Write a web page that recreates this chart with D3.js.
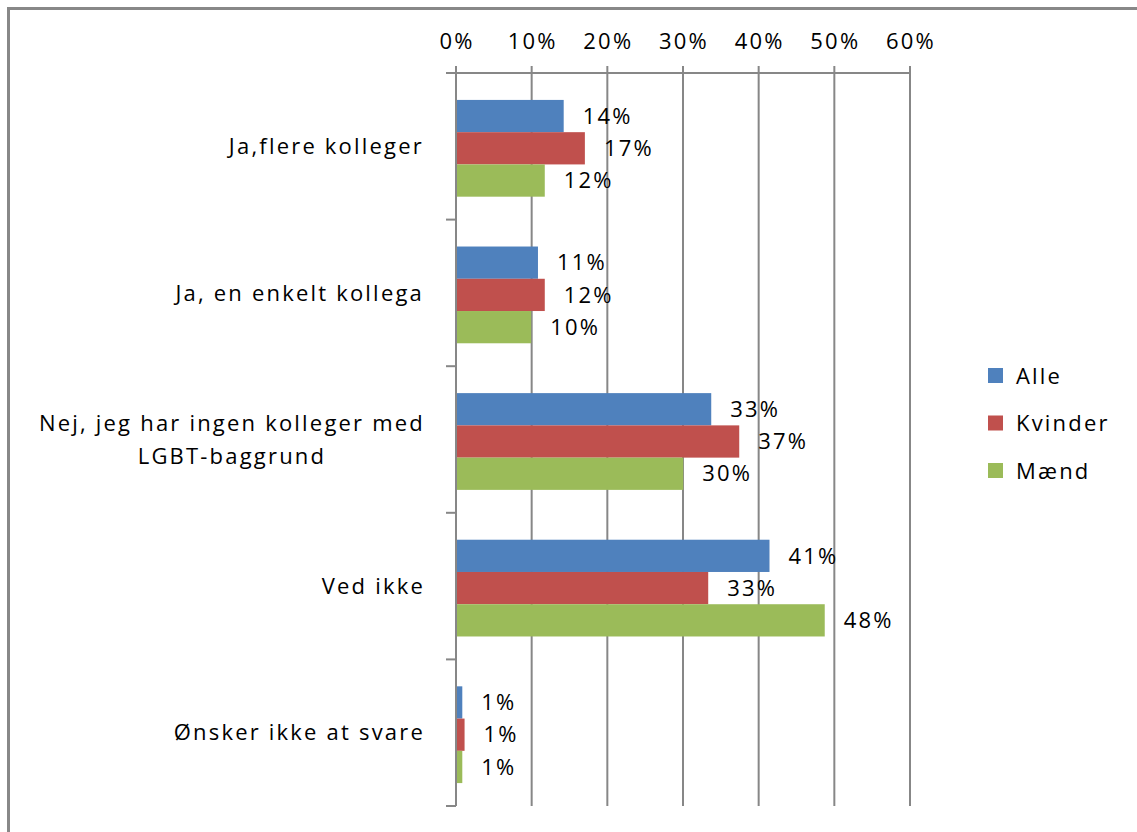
<!DOCTYPE html>
<html>
<head>
<meta charset="utf-8">
<script src="https://cdn.jsdelivr.net/npm/d3@7"></script>
<style>
  body { margin: 0; background: #fff; }
  svg text { font-family: "Open Sans", sans-serif; fill: #000; font-size: 22px; letter-spacing: 2.2px; }
</style>
</head>
<body>
<svg id="chart" width="1137" height="832"></svg>
<script>
//categories (top to bottom), "|" splits a label into lines
let categories = ["Ja,flere kolleger", "Ja, en enkelt kollega", "Nej, jeg har ingen kolleger med|LGBT-baggrund", "Ved ikke", "Ønsker ikke at svare"];
//series names and colours
let seriesNames = ["Alle", "Kvinder", "Mænd"];
let seriesColors = ["#4F81BD", "#C0504D", "#9BBB59"];
//values per series, as shares
let alle = [0.141, 0.107, 0.336, 0.413, 0.007];
let kvinder = [0.169, 0.116, 0.373, 0.332, 0.010];
let maend = [0.116, 0.098, 0.299, 0.486, 0.007];
//shown labels
let alleLabels = ["14%", "11%", "33%", "41%", "1%"];
let kvinderLabels = ["17%", "12%", "37%", "33%", "1%"];
let maendLabels = ["12%", "10%", "30%", "48%", "1%"];
//x tick values
let xTicks = [0, 0.1, 0.2, 0.3, 0.4, 0.5, 0.6];

let seriesValues = [alle, kvinder, maend];
let seriesLabels = [alleLabels, kvinderLabels, maendLabels];

let svg = d3.select("#chart");
let plot = { left: 456, right: 910, top: 73, bottom: 806 };
let gridColor = "#878787";

//outer frame
svg.append("rect").attr("x", 8.5).attr("y", 8.5).attr("width", 1140).attr("height", 840)
  .attr("fill", "none").attr("stroke", "#888").attr("stroke-width", 3);

//scales
let x = d3.scaleLinear().domain([0, 0.6]).range([plot.left, plot.right]);
let y0 = d3.scaleBand().domain(categories).range([plot.top, plot.bottom]);
let groupH = y0.bandwidth() * 0.66;
let y1 = d3.scaleBand().domain(seriesNames)
  .range([(y0.bandwidth() - groupH) / 2 + 2, (y0.bandwidth() + groupH) / 2 + 2]);

let g = svg.append("g");

//vertical gridlines, extending above the axis as tick marks
g.selectAll(".grid").data(xTicks).enter().append("line")
  .attr("class", "grid")
  .attr("x1", d => x(d)).attr("x2", d => x(d))
  .attr("y1", plot.top - 7).attr("y2", plot.bottom)
  .attr("stroke", gridColor).attr("stroke-width", 2);

//top axis line
g.append("line").attr("x1", plot.left - 10).attr("x2", plot.right)
  .attr("y1", plot.top).attr("y2", plot.top)
  .attr("stroke", gridColor).attr("stroke-width", 2);

//tick labels
g.selectAll(".xlabel").data(xTicks).enter().append("text")
  .attr("class", "xlabel")
  .attr("x", d => x(d) + 1).attr("y", plot.top - 24)
  .attr("text-anchor", "middle")
  .text(d => d3.format(".0%")(d));

//category axis ticks at band edges
let edges = categories.map(c => y0(c)).concat([plot.bottom]);
g.selectAll(".ytick").data(edges).enter().append("line")
  .attr("class", "ytick")
  .attr("x1", plot.left - 10).attr("x2", plot.left)
  .attr("y1", d => d).attr("y2", d => d)
  .attr("stroke", gridColor).attr("stroke-width", 2);

//bars
let groups = g.selectAll(".cat").data(categories).enter().append("g")
  .attr("class", "cat")
  .attr("transform", d => "translate(0," + y0(d) + ")");

groups.selectAll("rect").data((d, i) => seriesNames.map((s, j) => ({ s: s, j: j, v: seriesValues[j][i] })))
  .enter().append("rect")
  .attr("x", x(0) + 1)
  .attr("y", d => y1(d.s))
  .attr("width", d => x(d.v) - x(0))
  .attr("height", y1.bandwidth())
  .attr("fill", d => seriesColors[d.j]);

//value labels
groups.selectAll(".val").data((d, i) => seriesNames.map((s, j) => ({ s: s, j: j, v: seriesValues[j][i], t: seriesLabels[j][i] })))
  .enter().append("text")
  .attr("class", "val")
  .attr("x", d => x(d.v) + 20)
  .attr("y", d => y1(d.s) + y1.bandwidth() / 2)
  .attr("dy", "0.35em")
  .text(d => d.t);

//vertical category axis line
g.append("line").attr("x1", plot.left).attr("x2", plot.left)
  .attr("y1", plot.top).attr("y2", plot.bottom)
  .attr("stroke", gridColor).attr("stroke-width", 2);

//category labels, multi-line labels centred on each other
categories.forEach(function (c) {
  let lines = c.split("|");
  let lineH = 33;
  let cy = y0(c) + y0.bandwidth() / 2;
  let t = g.append("text").attr("text-anchor", "middle");
  lines.forEach(function (l, k) {
    t.append("tspan").attr("x", 0)
      .attr("y", cy + (k - (lines.length - 1) / 2) * lineH).attr("dy", "0.35em").text(l);
  });
  //right-align the whole block
  let w = t.node().getBBox().width;
  t.selectAll("tspan").attr("x", 425 - w / 2);
});

//legend
let legend = svg.append("g").attr("transform", "translate(988,376)");
seriesNames.forEach(function (s, i) {
  let row = legend.append("g").attr("transform", "translate(0," + (i * 47.5) + ")");
  row.append("rect").attr("x", 0).attr("y", -8).attr("width", 15).attr("height", 15).attr("fill", seriesColors[i]);
  row.append("text").attr("x", 28).attr("y", 0).attr("dy", "0.35em").text(s);
});
</script>
</body>
</html>
